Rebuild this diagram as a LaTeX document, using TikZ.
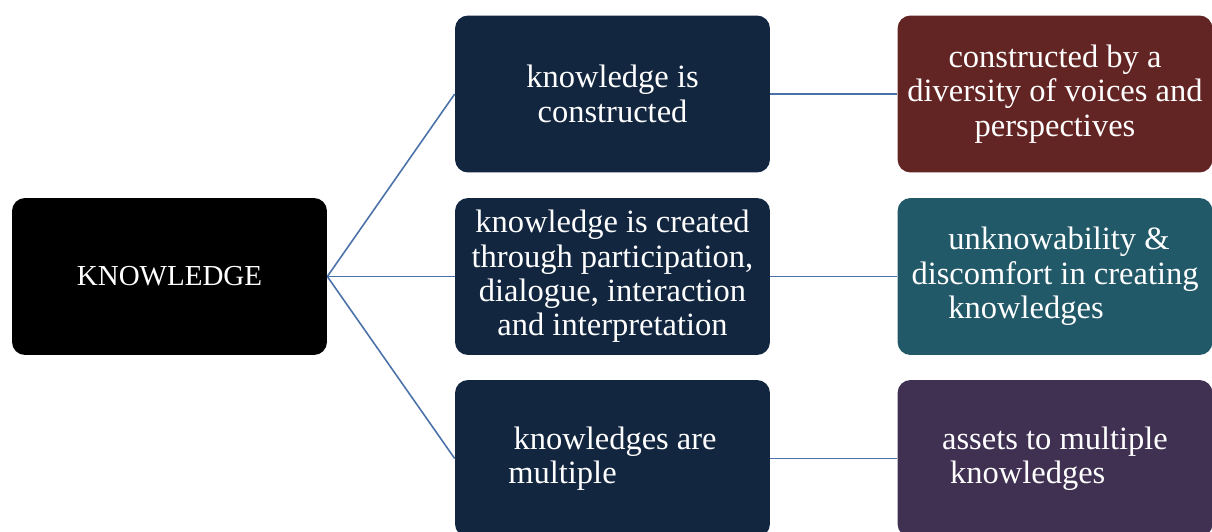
\documentclass[tikz,border=0pt]{standalone}
\usepackage{fontspec}
\setmainfont{Liberation Serif}
\definecolor{rootblack}{HTML}{000000}
\definecolor{midnavy}{HTML}{12263F}
\definecolor{leafred}{HTML}{632523}
\definecolor{leafteal}{HTML}{215968}
\definecolor{leafpurple}{HTML}{403152}
\definecolor{linkblue}{HTML}{4A72A8}
\usetikzlibrary{positioning}

\begin{document}
\begin{tikzpicture}[x=0.02cm,y=-0.02cm,
	box/.style={rounded corners=0.26cm, minimum width=6.3cm, minimum height=3.14cm,
		text=white, align=center, inner sep=0pt, font=\fontsize{18.5}{19.6}\selectfont},
	link/.style={draw=linkblue, line width=0.9pt}]
	\useasboundingbox (0,0) rectangle (1212,531);
	\clip (0,0) rectangle (1212,531);
	\node [box, fill=rootblack, font=\fontsize{16.5}{19.6}\selectfont] (knowledge)
	at (169.5,276.5) {KNOWLEDGE};
	% middle column
	\node [box, fill=midnavy] (constructed) at (612.5,94) {knowledge is\\ constructed};
	\node [box, fill=midnavy] (created) at (612.5,276.5)
	{knowledge is created\\ through participation,\\ dialogue, interaction\\ and interpretation};
	\node [box, fill=midnavy, align=left] (multiple) at (612.5,458.5)
	{\hspace*{3pt}knowledges are\\ multiple};
	% right column
	\node [box, fill=leafred] (voices) at (1055,94)
	{constructed by a\\ diversity of voices and\\ perspectives};
	\node [box, fill=leafteal, align=left] (discomfort) at (1055,276.5)
	{\hspace*{21pt}unknowability \&\\ discomfort in creating\\ \hspace*{21pt}knowledges};
	\node [box, fill=leafpurple, align=left] (assets) at (1055,458.5)
	{assets to multiple\\ \hspace*{4.5pt}knowledges};
	\foreach \m in {constructed,created,multiple}
	\draw [link] (knowledge.east) -- (\m.west);
	\draw [link] (constructed) -- (voices);
	\draw [link] (created) -- (discomfort);
	\draw [link] (multiple) -- (assets);
\end{tikzpicture}
\end{document}
